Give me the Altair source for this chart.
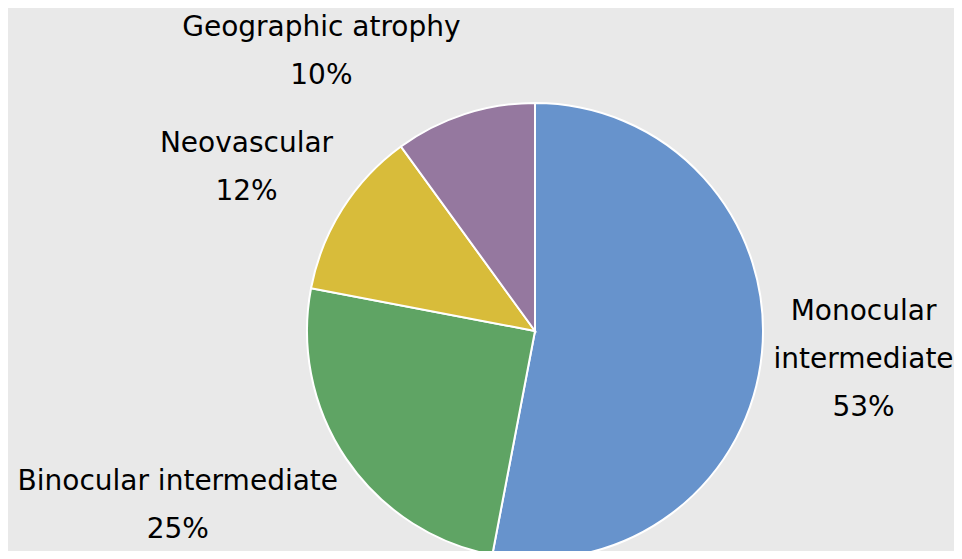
import altair as alt
import pandas as pd

categories = ["Monocular intermediate", "Binocular intermediate", "Neovascular", "Geographic atrophy"]
label_lines = ["Monocular\nintermediate", "Binocular intermediate", "Neovascular", "Geographic atrophy"]
values = [53, 25, 12, 10]
colors = ["#6793cc", "#5fa464", "#d8bc3a", "#95789f"]

df = pd.DataFrame({
    "idx": list(range(len(categories))),
    "category": categories,
    "lines": label_lines,
    "value": values,
})

CX, CY, R = 527, 323, 228

base = alt.Chart(df).transform_window(
    v1="sum(value)", sort=[alt.SortField("idx")], frame=[None, 0]
).transform_calculate(
    v0="datum.v1 - datum.value",
    mid="datum.v1 - datum.value / 2",
    label="datum.lines + '\\n' + datum.value + '%'",
)

theta_scale = alt.Scale(domain=[0, 100])

pie = base.mark_arc(outerRadius=R, stroke="white", strokeWidth=2, x=CX, y=CY).encode(
    theta=alt.Theta("v0:Q", scale=theta_scale),
    theta2="v1:Q",
    color=alt.Color("category:N", scale=alt.Scale(domain=categories, range=colors), legend=None),
)

# per-label placement: (radius, dx, dy)
placements = {
    0: (336, -6, -51),
    1: (392, -33, -69),
    2: (331, -9, -10),
    3: (332, -111, 13),
}

layers = [pie]
for i, (rad, ddx, ddy) in placements.items():
    layers.append(
        base.transform_filter(f"datum.idx == {i}").mark_text(
            radius=rad, dx=ddx, dy=ddy, x=CX, y=CY,
            font="DejaVu Sans", fontSize=28, lineBreak="\n", lineHeight=48,
            align="center", baseline="middle", color="#000000",
        ).encode(
            theta=alt.Theta("mid:Q", scale=theta_scale),
            text="label:N",
        )
    )

chart = alt.layer(*layers).properties(
    width=946, height=543,
    autosize=alt.AutoSizeParams(type="none"),
    padding=0,
    background="#e9e9e9",
).configure_view(stroke=None)

chart.save("out.html", embed_options={"renderer": "svg", "actions": False})
